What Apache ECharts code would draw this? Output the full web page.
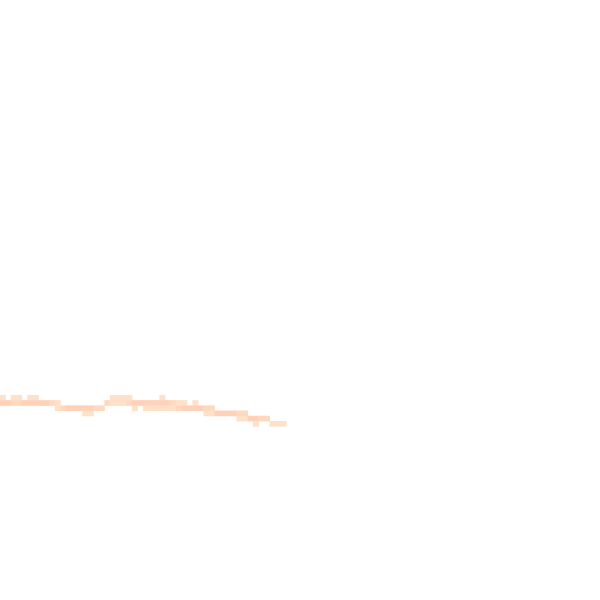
<!DOCTYPE html>
<html>
<head>
<meta charset="utf-8">
<script src="https://cdn.jsdelivr.net/npm/echarts@6/dist/echarts.min.js"></script>
<style>html,body{margin:0;padding:0;background:#fff}#c{width:600px;height:600px}</style>
</head>
<body>
<div id="c"></div>
<script>
var colCount = 109;
var rowCount = 115;
var xCategories = [];
for (var i = 0; i < colCount; i++) xCategories.push(String(i));
var yCategories = [];
for (var j = 0; j < rowCount; j++) yCategories.push(String(j));

// [column, level] per row of the visible band
var row76 = [[0,1],[2,1],[3,1],[5,1],[6,1],[20,1],[21,1],[22,1],[23,1],[29,1]];
var row77 = [[0,3],[1,3],[2,2],[3,2],[4,3],[5,3],[6,3],[7,3],[8,3],[9,2],[10,1],
             [19,2],[20,1],[21,1],[22,1],[23,2],[24,3],[25,3],[26,3],[27,3],[28,3],[29,3],[30,3],
             [31,2],[32,1],[33,1],[35,1]];
var row78 = [[10,1],[11,2],[12,3],[13,3],[14,3],[15,3],[16,3],[17,2],[18,2],
             [24,1],[26,1],[27,1],[28,1],[29,1],[30,1],[31,1],[32,2],[33,3],[34,3],[35,3],[36,3],[37,2],[38,2]];
var row79 = [[15,1],[16,1],[37,1],[38,1],[39,3],[40,3],[41,3],[42,3],[43,2],[44,2]];
var row80 = [[43,1],[44,1],[45,3],[46,3],[47,2],[48,2]];
var row81 = [[46,1],[49,1],[50,1],[51,1]];

var rows = {76: row76, 77: row77, 78: row78, 79: row79, 80: row80, 81: row81};
var data = [];
Object.keys(rows).forEach(function (r) {
  rows[r].forEach(function (p) { data.push([p[0], Number(r), p[1]]); });
});

var chart = echarts.init(document.getElementById('c'));
chart.setOption({
  animation: false,
  backgroundColor: '#ffffff',
  grid: { left: 0, top: 0, width: 600, height: 598 },
  xAxis: { type: 'category', data: xCategories, show: false },
  yAxis: { type: 'category', data: yCategories, inverse: true, show: false },
  visualMap: {
    type: 'piecewise', show: false, dimension: 2,
    pieces: [
      { value: 1, color: '#ffe0c8' },
      { value: 2, color: '#ffd8c0' },
      { value: 3, color: '#ffd1b8' }
    ]
  },
  series: [{
    type: 'heatmap',
    data: data,
    itemStyle: { borderWidth: 0 },
    emphasis: { disabled: true }
  }]
});
</script>
</body>
</html>
